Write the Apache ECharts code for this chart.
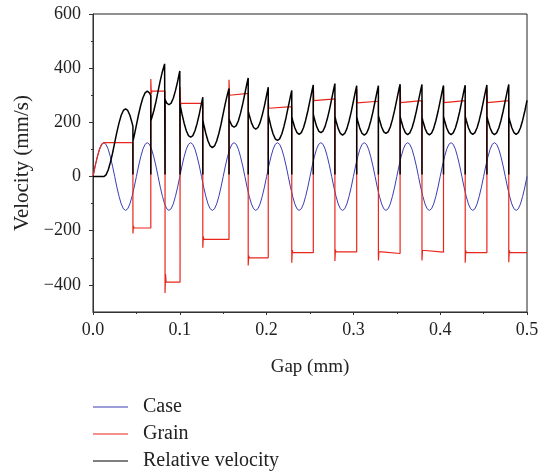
<!DOCTYPE html>
<html>
<head>
<meta charset="utf-8">
<script src="https://cdn.jsdelivr.net/npm/echarts@6/dist/echarts.min.js"></script>
<style>
html,body{margin:0;padding:0;background:#fff;}
#chart{width:549px;height:475px;}
</style>
</head>
<body>
<div id="chart"></div>
<script>
// ---------------- DATA ----------------
const seriesNames = ['Case', 'Grain', 'Relative velocity'];
const yLabelValues = [-400, -200, 0, 200, 400, 600];
const yMinorValues = [-300, -100, 100, 300, 500];

// Case velocity sampled every 0.0025 mm of gap
const caseStep = 0.0025;
const caseVel = [
  0,39,73,101,119,125,119,101,73,39,0,-39,-73,-101,-119,-125,-119,-101,-73,-39,
  0,39,73,101,119,125,119,101,73,39,0,-39,-73,-101,-119,-125,-119,-101,-73,-39,
  0,39,73,101,119,125,119,101,73,39,0,-39,-73,-101,-119,-125,-119,-101,-73,-39,
  0,39,73,101,119,125,119,101,73,39,0,-39,-73,-101,-119,-125,-119,-101,-73,-39,
  0,39,73,101,119,125,119,101,73,39,0,-39,-73,-101,-119,-125,-119,-101,-73,-39,
  0,39,73,101,119,125,119,101,73,39,0,-39,-73,-101,-119,-125,-119,-101,-73,-39,
  0,39,73,101,119,125,119,101,73,39,0,-39,-73,-101,-119,-125,-119,-101,-73,-39,
  0,39,73,101,119,125,119,101,73,39,0,-39,-73,-101,-119,-125,-119,-101,-73,-39,
  0,39,73,101,119,125,119,101,73,39,0,-39,-73,-101,-119,-125,-119,-101,-73,-39,
  0,39,73,101,119,125,119,101,73,39,0,-39,-73,-101,-119,-125,-119,-101,-73,-39,
  0
];

// Grain velocity: [gap, velocity]
const grainPts = [
  [0,0],[0.0025,39],[0.005,73],[0.0075,101],[0.01,119],[0.0125,125],
  [0.046,125],[0.046,-210],[0.0466,-182],[0.0472,-190],
  [0.0666,-190],[0.0666,360],[0.0672,305],[0.0678,315],
  [0.083,315],[0.083,-430],[0.0836,-360],[0.0842,-390],
  [0.1003,-390],[0.1003,330],[0.1009,262],[0.1015,270],
  [0.1265,270],[0.1265,-263],[0.1271,-222],[0.1277,-232],
  [0.1567,-232],[0.1567,357],[0.1573,300],[0.1579,307],
  [0.1788,307],[0.1788,-328],[0.1794,-292],[0.18,-300],
  [0.2019,-300],[0.2019,285],[0.2025,252],[0.2031,258],
  [0.229,258],[0.229,-318],[0.2296,-272],[0.2302,-281],
  [0.2538,-281],[0.2538,336],[0.2544,280],[0.255,287],
  [0.2787,287],[0.2787,-312],[0.2793,-270],[0.2799,-278],
  [0.3038,-278],[0.3038,324],[0.3044,272],[0.305,278],
  [0.3288,278],[0.3288,-310],[0.3294,-277],[0.33,-284],
  [0.3538,-284],[0.3538,336],[0.3544,273],[0.355,280],
  [0.379,280],[0.379,-310],[0.3796,-272],[0.3802,-279],
  [0.4038,-279],[0.4038,332],[0.4044,273],[0.405,280],
  [0.4288,280],[0.4288,-318],[0.4294,-273],[0.43,-281],
  [0.4538,-281],[0.4538,325],[0.4544,273],[0.455,280],
  [0.479,280],[0.479,-316],[0.4796,-273],[0.4802,-281],
  [0.5,-281]
];

// Relative velocity: [gap, velocity]
const relPts = [
  [0,0],[0.0125,0],
  [0.015,6],[0.0175,24],[0.02,52],[0.0225,86],[0.025,125],[0.0275,164],[0.03,198],[0.0325,226],[0.035,244],[0.0375,250],[0.04,244],[0.0425,226],[0.045,198],
  [0.046,185],[0.046,8],[0.046,130],
  [0.0475,151],[0.05,190],[0.0525,229],[0.055,263],[0.0575,291],[0.06,309],[0.0625,315],[0.065,309],
  [0.0666,299],[0.0666,8],[0.0666,206],
  [0.0675,214],[0.07,242],[0.0725,276],[0.075,315],[0.0775,354],[0.08,388],[0.0825,416],
  [0.083,420],[0.083,8],[0.083,284],
  [0.085,271],[0.0875,265],[0.09,271],[0.0925,289],[0.095,317],[0.0975,351],[0.1,390],
  [0.1003,395],[0.1003,8],[0.1003,265],
  [0.1025,231],[0.105,197],[0.1075,169],[0.11,151],[0.1125,145],[0.115,151],[0.1175,169],[0.12,197],[0.1225,231],[0.125,270],
  [0.1265,293],[0.1265,8],[0.1265,209],
  [0.1275,193],[0.13,159],[0.1325,131],[0.135,113],[0.1375,107],[0.14,113],[0.1425,131],[0.145,159],[0.1475,193],[0.15,232],[0.1525,271],[0.155,305],
  [0.1567,325],[0.1567,8],[0.1567,214],
  [0.1575,206],[0.16,188],[0.1625,182],[0.165,188],[0.1675,206],[0.17,234],[0.1725,268],[0.175,307],[0.1775,346],
  [0.1788,364],[0.1788,8],[0.1788,242],
  [0.18,227],[0.1825,199],[0.185,181],[0.1875,175],[0.19,181],[0.1925,199],[0.195,227],[0.1975,261],[0.2,300],
  [0.2019,330],[0.2019,8],[0.2019,228],
  [0.2025,219],[0.205,185],[0.2075,157],[0.21,139],[0.2125,133],[0.215,139],[0.2175,157],[0.22,185],[0.2225,219],[0.225,258],[0.2275,297],
  [0.229,318],[0.229,8],[0.229,221],
  [0.23,208],[0.2325,180],[0.235,162],[0.2375,156],[0.24,162],[0.2425,180],[0.245,208],[0.2475,242],[0.25,281],[0.2525,320],
  [0.2538,338],[0.2538,8],[0.2538,230],
  [0.255,214],[0.2575,186],[0.26,168],[0.2625,162],[0.265,168],[0.2675,186],[0.27,214],[0.2725,248],[0.275,287],[0.2775,326],
  [0.2787,343],[0.2787,8],[0.2787,222],
  [0.28,205],[0.2825,177],[0.285,159],[0.2875,153],[0.29,159],[0.2925,177],[0.295,205],[0.2975,239],[0.3,278],[0.3025,317],
  [0.3038,335],[0.3038,8],[0.3038,220],
  [0.305,205],[0.3075,177],[0.31,159],[0.3125,153],[0.315,159],[0.3175,177],[0.32,205],[0.3225,239],[0.325,278],[0.3275,317],
  [0.3288,335],[0.3288,8],[0.3288,226],
  [0.33,211],[0.3325,183],[0.335,165],[0.3375,159],[0.34,165],[0.3425,183],[0.345,211],[0.3475,245],[0.35,284],[0.3525,323],
  [0.3538,341],[0.3538,8],[0.3538,222],
  [0.355,207],[0.3575,179],[0.36,161],[0.3625,155],[0.365,161],[0.3675,179],[0.37,207],[0.3725,241],[0.375,280],[0.3775,319],
  [0.379,340],[0.379,8],[0.379,219],
  [0.38,206],[0.3825,178],[0.385,160],[0.3875,154],[0.39,160],[0.3925,178],[0.395,206],[0.3975,240],[0.4,279],[0.4025,318],
  [0.4038,336],[0.4038,8],[0.4038,222],
  [0.405,207],[0.4075,179],[0.41,161],[0.4125,155],[0.415,161],[0.4175,179],[0.42,207],[0.4225,241],[0.425,280],[0.4275,319],
  [0.4288,337],[0.4288,8],[0.4288,223],
  [0.43,208],[0.4325,180],[0.435,162],[0.4375,156],[0.44,162],[0.4425,180],[0.445,208],[0.4475,242],[0.45,281],[0.4525,320],
  [0.4538,338],[0.4538,8],[0.4538,222],
  [0.455,207],[0.4575,179],[0.46,161],[0.4625,155],[0.465,161],[0.4675,179],[0.47,207],[0.4725,241],[0.475,280],[0.4775,319],
  [0.479,340],[0.479,8],[0.479,221],
  [0.48,208],[0.4825,180],[0.485,162],[0.4875,156],[0.49,162],[0.4925,180],[0.495,208],[0.4975,242],[0.5,281]
];

// ---------------- CHART ----------------
const FONT = 'Liberation Serif';
const caseData = caseVel.map((v, i) => [+(i * caseStep).toFixed(4), v]);
const minus = v => (v < 0 ? '\u2212' + Math.abs(v) : String(v));

const chart = echarts.init(document.getElementById('chart'), null, {renderer: 'canvas'});
chart.setOption({
  animation: false,
  backgroundColor: '#fff',
  textStyle: {fontFamily: FONT},
  grid: {left: 93, right: 22, top: 14, bottom: 163, show: true, borderColor: '#222', borderWidth: 1, backgroundColor: 'transparent'},
  legend: {
    orient: 'vertical', left: 93, top: 397, height: 78, width: 300, padding: 0,
    icon: 'rect', itemWidth: 35, itemHeight: 1.2, itemGap: 7,
    data: seriesNames,
    textStyle: {fontFamily: FONT, fontSize: 20, color: '#222', lineHeight: 20, padding: [0, 0, 0, 10]}
  },
  xAxis: {
    type: 'value', min: 0, max: 0.5, interval: 0.1,
    name: 'Gap (mm)', nameLocation: 'middle', nameGap: 46,
    nameTextStyle: {fontFamily: FONT, fontSize: 19, color: '#222'},
    axisLine: {show: true, onZero: false, lineStyle: {color: '#333', width: 1}},
    axisTick: {show: true, length: 3, lineStyle: {color: '#333'}},
    minorTick: {show: true, splitNumber: 2, length: 2, lineStyle: {color: '#333'}},
    splitLine: {show: false},
    axisLabel: {fontFamily: FONT, fontSize: 18, color: '#222', margin: 9, formatter: v => v.toFixed(1)}
  },
  yAxis: [{
    type: 'value', min: -500, max: 600, interval: 100,
    name: 'Velocity (mm/s)', nameLocation: 'middle', nameGap: 57,
    nameTextStyle: {fontFamily: FONT, fontSize: 21, color: '#222'},
    axisLine: {show: true, onZero: false, lineStyle: {color: '#333', width: 1}},
    axisTick: {show: true, length: 4, customValues: yLabelValues, lineStyle: {color: '#333'}},
    splitLine: {show: false},
    axisLabel: {fontFamily: FONT, fontSize: 18, color: '#222', margin: 12, customValues: yLabelValues, formatter: v => minus(v)}
  }, {
    type: 'value', min: -500, max: 600, interval: 100, position: 'left',
    axisLine: {show: false},
    axisTick: {show: true, length: 2, customValues: yMinorValues, lineStyle: {color: '#333'}},
    axisLabel: {show: false},
    splitLine: {show: false}
  }],
  series: [
    {name: seriesNames[0], type: 'line', data: caseData, symbol: 'none', showSymbol: false,
     lineStyle: {color: '#3b3db5', width: 1}, itemStyle: {color: '#3b3db5'}},
    {name: seriesNames[1], type: 'line', data: grainPts, symbol: 'none', showSymbol: false,
     lineStyle: {color: '#e8261c', width: 1.2}, itemStyle: {color: '#e8261c'}},
    {name: seriesNames[2], type: 'line', data: relPts, symbol: 'none', showSymbol: false,
     lineStyle: {color: '#000', width: 1.5}, itemStyle: {color: '#000'}}
  ]
});
</script>
</body>
</html>
